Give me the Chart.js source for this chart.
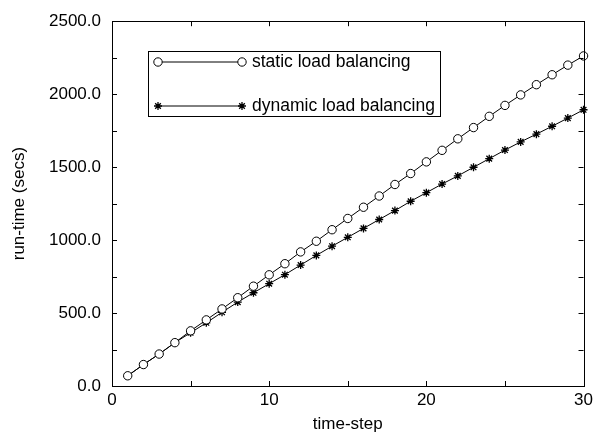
<!DOCTYPE html>
<html>
<head>
<meta charset="utf-8">
<script src="https://cdn.jsdelivr.net/npm/chart.js@4/dist/chart.umd.min.js"></script>
<style>
  html, body { margin: 0; padding: 0; background: #fff; }
  #wrap { width: 597px; height: 435px; }
</style>
</head>
<body>
<div id="wrap"><canvas id="runtimeChart" width="597" height="435"></canvas></div>
<script>
// values
const timeSteps = [1, 2, 3, 4, 5, 6, 7, 8, 9, 10, 11, 12, 13, 14, 15, 16, 17, 18, 19, 20,
    21, 22, 23, 24, 25, 26, 27, 28, 29, 30];
const staticRuntime = [70, 147, 219, 297, 378, 453, 528, 605, 684, 762, 838, 919, 992, 1071, 1148,
    1225, 1302, 1381, 1456, 1536, 1615, 1694, 1771, 1848, 1923, 1995, 2065, 2133, 2199, 2262];
const dynamicRuntime = [70, 147, 219, 297, 365, 433, 505, 575, 639, 701, 763, 829, 895, 958, 1019,
    1080, 1141, 1202, 1266, 1325, 1384, 1440, 1499, 1558, 1617, 1673, 1726, 1780, 1836, 1893];
const seriesLabels = ['static load balancing', 'dynamic load balancing'];
const xTickValues = [0, 10, 20, 30];
const yTickValues = [0, 500, 1000, 1500, 2000, 2500];

const FONT = '"Liberation Sans", Arial, Helvetica, sans-serif';

function toPoints(values) {
    return timeSteps.map((t, i) => ({ x: t, y: values[i] }));
}

// frame with inward ticks, like the original plot
const framePlugin = {
    id: 'frame',
    afterDatasetsDraw(chart) {
        const { ctx, chartArea: a, scales } = chart;
        const len = 5;
        ctx.save();
        ctx.strokeStyle = '#000';
        ctx.lineWidth = 1;
        ctx.strokeRect(Math.round(a.left) + 0.5, Math.round(a.top) + 0.5,
            Math.round(a.right - a.left), Math.round(a.bottom - a.top));
        ctx.beginPath();
        for (let v = 5; v < 30; v += 5) {
            const px = Math.round(scales.x.getPixelForValue(v)) + 0.5;
            ctx.moveTo(px, a.bottom); ctx.lineTo(px, a.bottom - len);
            ctx.moveTo(px, a.top); ctx.lineTo(px, a.top + len);
        }
        for (let v = 250; v < 2500; v += 250) {
            const py = Math.round(scales.y.getPixelForValue(v)) + 0.5;
            ctx.moveTo(a.left, py); ctx.lineTo(a.left + len, py);
            ctx.moveTo(a.right, py); ctx.lineTo(a.right - len, py);
        }
        ctx.stroke();
        ctx.restore();
    }
};

// boxed legend in the upper left of the plot
const legendBoxPlugin = {
    id: 'legendBox',
    afterDraw(chart) {
        const { ctx } = chart;
        const box = { x: 148.5, y: 51.5, w: 292, h: 65 };
        ctx.save();
        ctx.strokeStyle = '#000';
        ctx.lineWidth = 1;
        ctx.strokeRect(box.x, box.y, box.w, box.h);
        const rows = [62, 106];
        chart.data.datasets.forEach((ds, i) => {
            const y = rows[i];
            ctx.strokeStyle = '#000';
            ctx.lineWidth = 1;
            ctx.beginPath();
            ctx.moveTo(158, y);
            ctx.lineTo(242, y);
            ctx.stroke();
            [158, 242].forEach(px => {
                ctx.fillStyle = ds.pointBackgroundColor;
                ctx.strokeStyle = ds.pointBorderColor;
                ctx.lineWidth = ds.pointBorderWidth;
                Chart.helpers.drawPoint(ctx, {
                    pointStyle: ds.pointStyle,
                    radius: ds.pointRadius,
                    borderWidth: ds.pointBorderWidth
                }, px, y);
            });
            ctx.fillStyle = '#000';
            ctx.font = '17.5px ' + FONT;
            ctx.textBaseline = 'middle';
            ctx.textAlign = 'left';
            ctx.fillText(ds.label, 252, y);
        });
        ctx.restore();
    }
};

const ctx = document.getElementById('runtimeChart').getContext('2d');
new Chart(ctx, {
    type: 'line',
    data: {
        datasets: [
            {
                label: seriesLabels[0],
                data: toPoints(staticRuntime),
                borderColor: '#000',
                borderWidth: 1,
                pointStyle: 'circle',
                pointRadius: 4.2,
                pointBackgroundColor: '#fff',
                pointBorderColor: '#000',
                pointBorderWidth: 1,
                tension: 0,
                clip: false
            },
            {
                label: seriesLabels[1],
                data: toPoints(dynamicRuntime),
                borderColor: '#000',
                borderWidth: 1,
                pointStyle: 'star',
                pointRadius: 4,
                pointBackgroundColor: '#000',
                pointBorderColor: '#000',
                pointBorderWidth: 1.3,
                tension: 0,
                clip: false
            }
        ]
    },
    options: {
        responsive: false,
        animation: false,
        devicePixelRatio: 1,
        layout: { padding: { left: 0, right: 10, top: 18, bottom: 0 } },
        plugins: {
            legend: { display: false },
            tooltip: { enabled: false }
        },
        scales: {
            x: {
                type: 'linear',
                min: 0,
                max: 30,
                afterBuildTicks(scale) {
                    scale.ticks = xTickValues.map(v => ({ value: v }));
                },
                afterFit(scale) { scale.height = 49; },
                grid: { display: false, drawTicks: false },
                border: { display: false },
                ticks: {
                    color: '#000',
                    font: { family: FONT, size: 17 },
                    padding: 4,
                    maxRotation: 0
                },
                title: {
                    display: true,
                    text: 'time-step',
                    color: '#000',
                    font: { family: FONT, size: 17 },
                    padding: { top: 0, bottom: 0 }
                }
            },
            y: {
                type: 'linear',
                min: 0,
                max: 2500,
                afterBuildTicks(scale) {
                    scale.ticks = yTickValues.map(v => ({ value: v }));
                },
                afterFit(scale) { scale.width = 112; },
                grid: { display: false, drawTicks: false },
                border: { display: false },
                ticks: {
                    color: '#000',
                    font: { family: FONT, size: 17 },
                    padding: 11,
                    callback: v => Number(v).toFixed(1)
                },
                title: {
                    display: true,
                    text: 'run-time (secs)',
                    color: '#000',
                    font: { family: FONT, size: 17 },
                    padding: { top: 9, bottom: 9 }
                }
            }
        }
    },
    plugins: [framePlugin, legendBoxPlugin]
});
</script>
</body>
</html>
